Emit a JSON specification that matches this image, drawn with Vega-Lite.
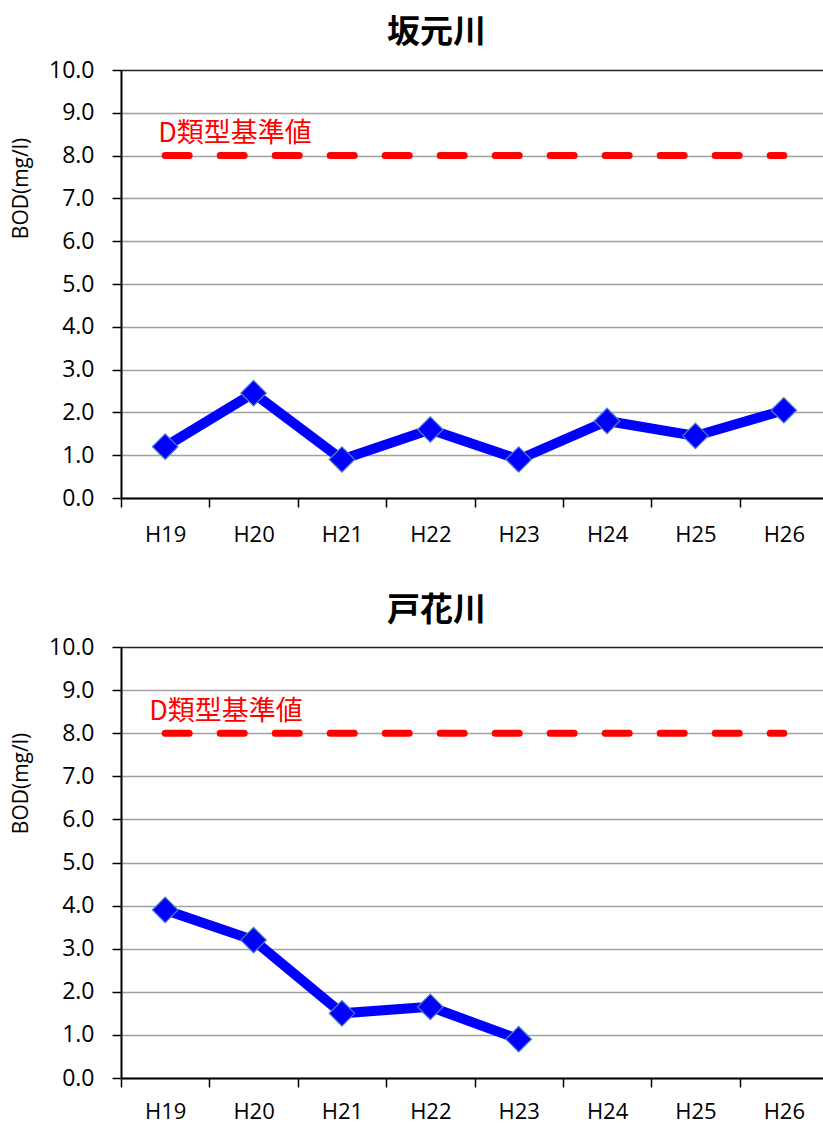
{
  "$schema": "https://vega.github.io/schema/vega-lite/v6.json",
  "padding": {"left": 10, "top": 17, "right": 0, "bottom": 0},
  "background": "white",
  "datasets": {
    "bod": [
      {"river": "坂元川", "year": "H19", "bod": 1.2},
      {"river": "坂元川", "year": "H20", "bod": 2.45},
      {"river": "坂元川", "year": "H21", "bod": 0.9},
      {"river": "坂元川", "year": "H22", "bod": 1.6},
      {"river": "坂元川", "year": "H23", "bod": 0.9},
      {"river": "坂元川", "year": "H24", "bod": 1.8},
      {"river": "坂元川", "year": "H25", "bod": 1.45},
      {"river": "坂元川", "year": "H26", "bod": 2.05},
      {"river": "戸花川", "year": "H19", "bod": 3.9},
      {"river": "戸花川", "year": "H20", "bod": 3.2},
      {"river": "戸花川", "year": "H21", "bod": 1.5},
      {"river": "戸花川", "year": "H22", "bod": 1.65},
      {"river": "戸花川", "year": "H23", "bod": 0.9}
    ],
    "standard": [
      {"year": "H19", "value": 8},
      {"year": "H20", "value": 8},
      {"year": "H21", "value": 8},
      {"year": "H22", "value": 8},
      {"year": "H23", "value": 8},
      {"year": "H24", "value": 8},
      {"year": "H25", "value": 8},
      {"year": "H26", "value": 8}
    ]
  },
  "spacing": 50,
  "vconcat": [
    {
      "width": 707,
      "height": 428,
      "title": {"text": "坂元川", "font": "Noto Sans CJK JP", "fontSize": 33, "fontWeight": "bold", "color": "black", "anchor": "middle", "dx": -38, "offset": 9},
      "layer": [
        {
          "data": {"name": "standard"},
          "mark": {"type": "line", "color": "#FF0000", "strokeWidth": 7, "strokeDash": [24, 31], "strokeCap": "round"},
          "encoding": {
            "x": {"field": "year", "type": "nominal", "scale": {"type": "band", "domain": ["H19","H20","H21","H22","H23","H24","H25","H26"], "paddingInner": 0, "paddingOuter": 0},
                  "axis": {"title": null, "tickBand": "extent", "tickSize": 9, "tickColor": "black", "tickWidth": 1.5, "domainColor": "black", "domainWidth": 2, "labelAngle": 0, "labelFont": "Open Sans", "labelFontSize": 22, "labelColor": "black", "labelPadding": 17, "grid": false}},
            "y": {"field": "value", "type": "quantitative", "scale": {"domain": [0, 10], "nice": false, "zero": true},
                  "axis": {"title": "BOD(mg/l)", "titleFont": "Open Sans", "titleFontSize": 21, "titleFontWeight": "normal", "titleColor": "black", "titleY": 118, "titlePadding": 17,
                           "values": [0,1,2,3,4,5,6,7,8,9,10], "format": ".1f", "labelFont": "Open Sans", "labelFontSize": 23, "labelColor": "black", "labelPadding": 18,
                           "tickSize": 9, "tickColor": "black", "tickWidth": 1.5, "domainColor": "black", "domainWidth": 2,
                           "grid": true, "gridWidth": 1.5, "gridColor": {"condition": {"test": "datum.value === 10", "value": "#222222"}, "value": "#A0A0A0"}}}
          }
        },
        {
          "data": {"name": "bod"},
          "transform": [{"filter": "datum.river === '坂元川'"}],
          "mark": {"type": "line", "color": "#0000FF", "strokeWidth": 10},
          "encoding": {
            "x": {"field": "year", "type": "nominal"},
            "y": {"field": "bod", "type": "quantitative"}
          }
        },
        {
          "data": {"name": "bod"},
          "transform": [{"filter": "datum.river === '坂元川'"}],
          "mark": {"type": "point", "shape": "diamond", "size": 650, "filled": true, "fill": "#0000FF", "stroke": "#4F81BD", "strokeWidth": 1.2, "opacity": 1},
          "encoding": {
            "x": {"field": "year", "type": "nominal"},
            "y": {"field": "bod", "type": "quantitative"}
          }
        },
        {
          "data": {"values": [{}]},
          "mark": {"type": "text", "text": "D類型基準値", "color": "#FF0000", "font": "Noto Sans CJK JP", "fontSize": 27, "align": "left", "baseline": "middle", "dx": -7},
          "encoding": {
            "x": {"datum": "H19", "type": "nominal"},
            "y": {"datum": 8.5, "type": "quantitative"}
          }
        }
      ]
    },
    {
      "width": 707,
      "height": 431,
      "title": {"text": "戸花川", "font": "Noto Sans CJK JP", "fontSize": 33, "fontWeight": "bold", "color": "black", "anchor": "middle", "dx": -38, "offset": 8},
      "layer": [
        {
          "data": {"name": "standard"},
          "mark": {"type": "line", "color": "#FF0000", "strokeWidth": 7, "strokeDash": [24, 31], "strokeCap": "round"},
          "encoding": {
            "x": {"field": "year", "type": "nominal", "scale": {"type": "band", "domain": ["H19","H20","H21","H22","H23","H24","H25","H26"], "paddingInner": 0, "paddingOuter": 0},
                  "axis": {"title": null, "tickBand": "extent", "tickSize": 9, "tickColor": "black", "tickWidth": 1.5, "domainColor": "black", "domainWidth": 2, "labelAngle": 0, "labelFont": "Open Sans", "labelFontSize": 22, "labelColor": "black", "labelPadding": 14, "grid": false}},
            "y": {"field": "value", "type": "quantitative", "scale": {"domain": [0, 10], "nice": false, "zero": true},
                  "axis": {"title": "BOD(mg/l)", "titleFont": "Open Sans", "titleFontSize": 21, "titleFontWeight": "normal", "titleColor": "black", "titleY": 136, "titlePadding": 17,
                           "values": [0,1,2,3,4,5,6,7,8,9,10], "format": ".1f", "labelFont": "Open Sans", "labelFontSize": 23, "labelColor": "black", "labelPadding": 18,
                           "tickSize": 9, "tickColor": "black", "tickWidth": 1.5, "domainColor": "black", "domainWidth": 2,
                           "grid": true, "gridWidth": 1.5, "gridColor": {"condition": {"test": "datum.value === 10", "value": "#222222"}, "value": "#A0A0A0"}}}
          }
        },
        {
          "data": {"name": "bod"},
          "transform": [{"filter": "datum.river === '戸花川'"}],
          "mark": {"type": "line", "color": "#0000FF", "strokeWidth": 10},
          "encoding": {
            "x": {"field": "year", "type": "nominal"},
            "y": {"field": "bod", "type": "quantitative"}
          }
        },
        {
          "data": {"name": "bod"},
          "transform": [{"filter": "datum.river === '戸花川'"}],
          "mark": {"type": "point", "shape": "diamond", "size": 650, "filled": true, "fill": "#0000FF", "stroke": "#4F81BD", "strokeWidth": 1.2, "opacity": 1},
          "encoding": {
            "x": {"field": "year", "type": "nominal"},
            "y": {"field": "bod", "type": "quantitative"}
          }
        },
        {
          "data": {"values": [{}]},
          "mark": {"type": "text", "text": "D類型基準値", "color": "#FF0000", "font": "Noto Sans CJK JP", "fontSize": 27, "align": "left", "baseline": "middle", "dx": -16},
          "encoding": {
            "x": {"datum": "H19", "type": "nominal"},
            "y": {"datum": 8.5, "type": "quantitative"}
          }
        }
      ]
    }
  ],
  "config": {
    "view": {"stroke": null},
    "font": "Open Sans"
  }
}
